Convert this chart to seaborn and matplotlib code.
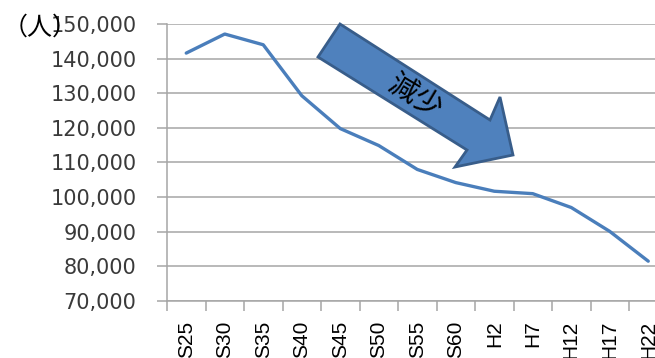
import matplotlib
matplotlib.use("Agg")
import matplotlib.pyplot as plt
import numpy as np
import pandas as pd
import seaborn as sns
from matplotlib.patches import Polygon
from matplotlib.ticker import FuncFormatter

# data
periods = ['S25', 'S30', 'S35', 'S40', 'S45', 'S50', 'S55', 'S60',
           'H2', 'H7', 'H12', 'H17', 'H22']
population = [141600, 147100, 144000, 129300, 119800, 114900, 108000,
              104200, 101700, 101000, 97000, 90100, 81500]
y_ticks = [70000, 80000, 90000, 100000, 110000, 120000, 130000, 140000, 150000]
unit_label = '（人）'
arrow_label = '減少'

df = pd.DataFrame({'period': periods, 'population': population})

sns.set_style('white')
plt.rcParams['font.family'] = ['DejaVu Sans', 'Noto Sans CJK JP']

W, H = 655, 358
fig = plt.figure(figsize=(W / 100, H / 100), dpi=100)
# plot area runs past the right edge like the original screenshot
ax = fig.add_axes([167 / W, 1 - 301 / H, 500.5 / W, 277 / H])

sns.lineplot(data=df, x='period', y='population', sort=False,
             color='#4a7ebb', linewidth=2.4, ax=ax)

grey = '#a6a6a6'
text_col = '#3a3a3a'
ax.set_xlim(-0.5, len(periods) - 0.5)
ax.set_ylim(y_ticks[0], y_ticks[-1])
ax.set_yticks(y_ticks)
ax.yaxis.set_major_formatter(FuncFormatter(lambda v, p: f'{int(v):,}'))
ax.grid(axis='y', color=grey, linewidth=1.1)
ax.set_axisbelow(True)

ax.set_xticks(range(len(periods)))
ax.set_xticklabels(periods, rotation=90, family='Liberation Sans',
                   fontsize=15, color='black')
ax.set_xticks(np.arange(-0.5, len(periods), 1), minor=True)
ax.tick_params(axis='x', which='major', length=0, pad=14)
ax.tick_params(axis='x', which='minor', length=7, color=grey, width=1.1,
               direction='out', bottom=True)
ax.tick_params(axis='y', length=7, color=grey, width=1.1, direction='out',
               left=True, labelsize=15, labelcolor=text_col, pad=15)
for lab in ax.get_xticklabels():
    lab.set_verticalalignment('top')

for side in ['top', 'right']:
    ax.spines[side].set_visible(False)
for side in ['left', 'bottom']:
    ax.spines[side].set_color(grey)
    ax.spines[side].set_linewidth(1.1)
ax.set_xlabel('')
ax.set_ylabel('')

# unit label overlapping the top tick label
fig.text(3 / W, 1 - 28 / H, unit_label, fontsize=18, color='black',
         family=['Noto Sans CJK JP', 'DejaVu Sans'], va='center', ha='left')

# big block arrow with text (pixel outline converted to inches)
arrow_px = [(340, 24), (490, 120), (500, 97), (513, 155),
            (455, 167), (467, 150), (318, 57)]
arrow_in = [(x / 100, (H - y) / 100) for x, y in arrow_px]
fig.patches.append(Polygon(arrow_in, closed=True, facecolor='#4f81bd',
                           edgecolor='#385d8a', linewidth=2.0,
                           joinstyle='miter', transform=fig.dpi_scale_trans,
                           zorder=5))
fig.text(415 / W, 1 - 97 / H, arrow_label, fontsize=21, color='black',
         rotation=-31, rotation_mode='anchor', ha='center', va='center',
         family=['Noto Sans CJK JP', 'DejaVu Sans'], zorder=6)

fig.savefig('out.png', dpi=100)
